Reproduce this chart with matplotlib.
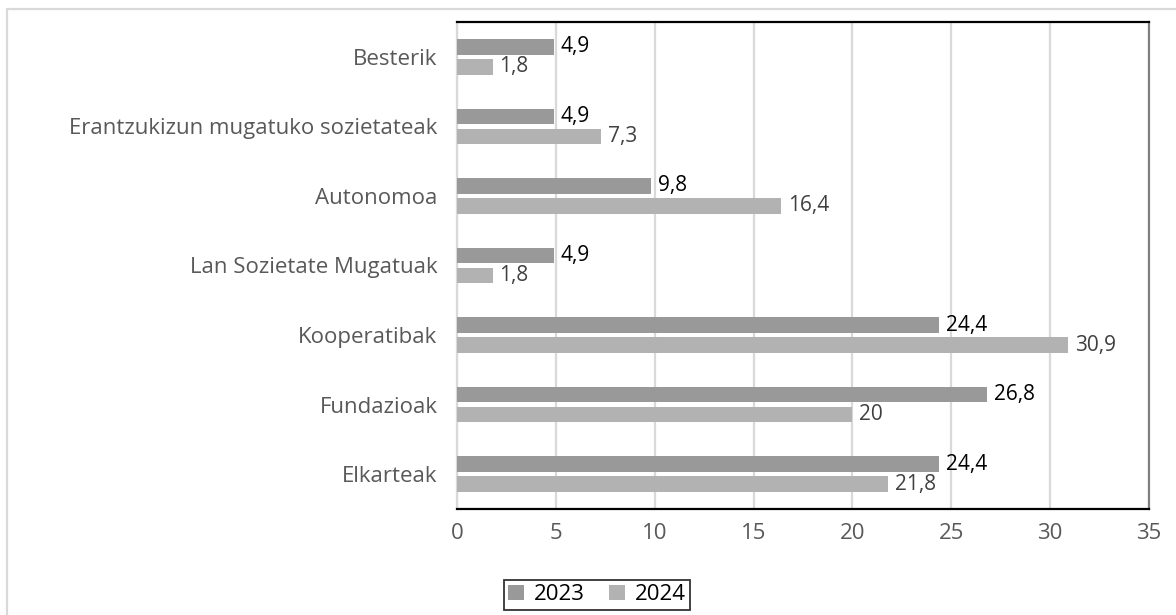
import numpy as np
import matplotlib.pyplot as plt
from matplotlib.patches import Rectangle

# -----------------------------
# --- Dados
# -----------------------------
categories = ["Elkarteak", "Fundazioak", "Kooperatibak", "Lan Sozietate Mugatuak",
              "Autonomoa", "Erantzukizun mugatuko sozietateak", "Besterik"]
values_2023 = [24.4, 26.8, 24.4, 4.9, 9.8, 4.9, 4.9]
values_2024 = [21.8, 20, 30.9, 1.8, 16.4, 7.3, 1.8]
series_names = ["2023", "2024"]

# -----------------------------
# --- Estilo
# -----------------------------
plt.rcParams['font.family'] = ['Open Sans', 'DejaVu Sans']
COLOR_2023 = '#999999'
COLOR_2024 = '#b2b2b2'
GRID = '#d9d9d9'
TEXT = '#595959'

fig = plt.figure(figsize=(11.76, 6.15), dpi=100)
ax = fig.add_axes([457 / 1176, 1 - 509 / 615, 692 / 1176, 487 / 615])

# moldura exterior
fig.patches.append(Rectangle((7 / 1176, -0.05), 1.1, (615 - 9) / 615 + 0.05,
                             transform=fig.transFigure, fill=False,
                             edgecolor=GRID, linewidth=1.6))

y = np.arange(len(categories))
h = 0.223
off = h / 2 + 0.032

b1 = ax.barh(y + off, values_2023, height=h, color=COLOR_2023, label=series_names[0], zorder=3)
b2 = ax.barh(y - off, values_2024, height=h, color=COLOR_2024, label=series_names[1], zorder=3)

def fmt(v):
    return f"{v:g}".replace('.', ',')

for rect, v in zip(b1, values_2023):
    ax.annotate(fmt(v), (v, rect.get_y() + rect.get_height() / 2), xytext=(5, 0),
                textcoords='offset points', va='center', ha='left',
                fontsize=15, color='#000000')
for rect, v in zip(b2, values_2024):
    ax.annotate(fmt(v), (v, rect.get_y() + rect.get_height() / 2), xytext=(5, 0),
                textcoords='offset points', va='center', ha='left',
                fontsize=15, color='#404040')

ax.set_xlim(0, 35)
ax.set_ylim(-0.5, len(categories) - 0.5)
ax.set_xticks(np.arange(0, 36, 5))
ax.set_yticks(y)
ax.set_yticklabels(categories)
ax.tick_params(axis='y', length=0, pad=14, labelsize=16, labelcolor=TEXT)
ax.tick_params(axis='x', length=0, pad=10, labelsize=16, labelcolor=TEXT)

ax.grid(axis='x', color=GRID, linewidth=1.6, zorder=0)
ax.spines['left'].set_color(GRID)
ax.spines['left'].set_linewidth(1.6)
ax.spines['top'].set_color('black')
ax.spines['top'].set_linewidth(1.6)
ax.spines['bottom'].set_color('black')
ax.spines['bottom'].set_linewidth(1.6)
ax.spines['right'].set_color('#808080')
ax.spines['right'].set_linewidth(1.6)

leg = fig.legend(handles=[b1, b2], loc='upper center', bbox_to_anchor=(597 / 1176, 1 - 580 / 615),
                 ncol=2, frameon=True, fancybox=False, fontsize=16,
                 handlelength=0.7, handleheight=0.7, handletextpad=0.45,
                 columnspacing=1.1, borderpad=0.2, borderaxespad=0)
leg.get_frame().set_edgecolor('black')
leg.get_frame().set_linewidth(1.3)

fig.savefig("out.png", dpi=100)
